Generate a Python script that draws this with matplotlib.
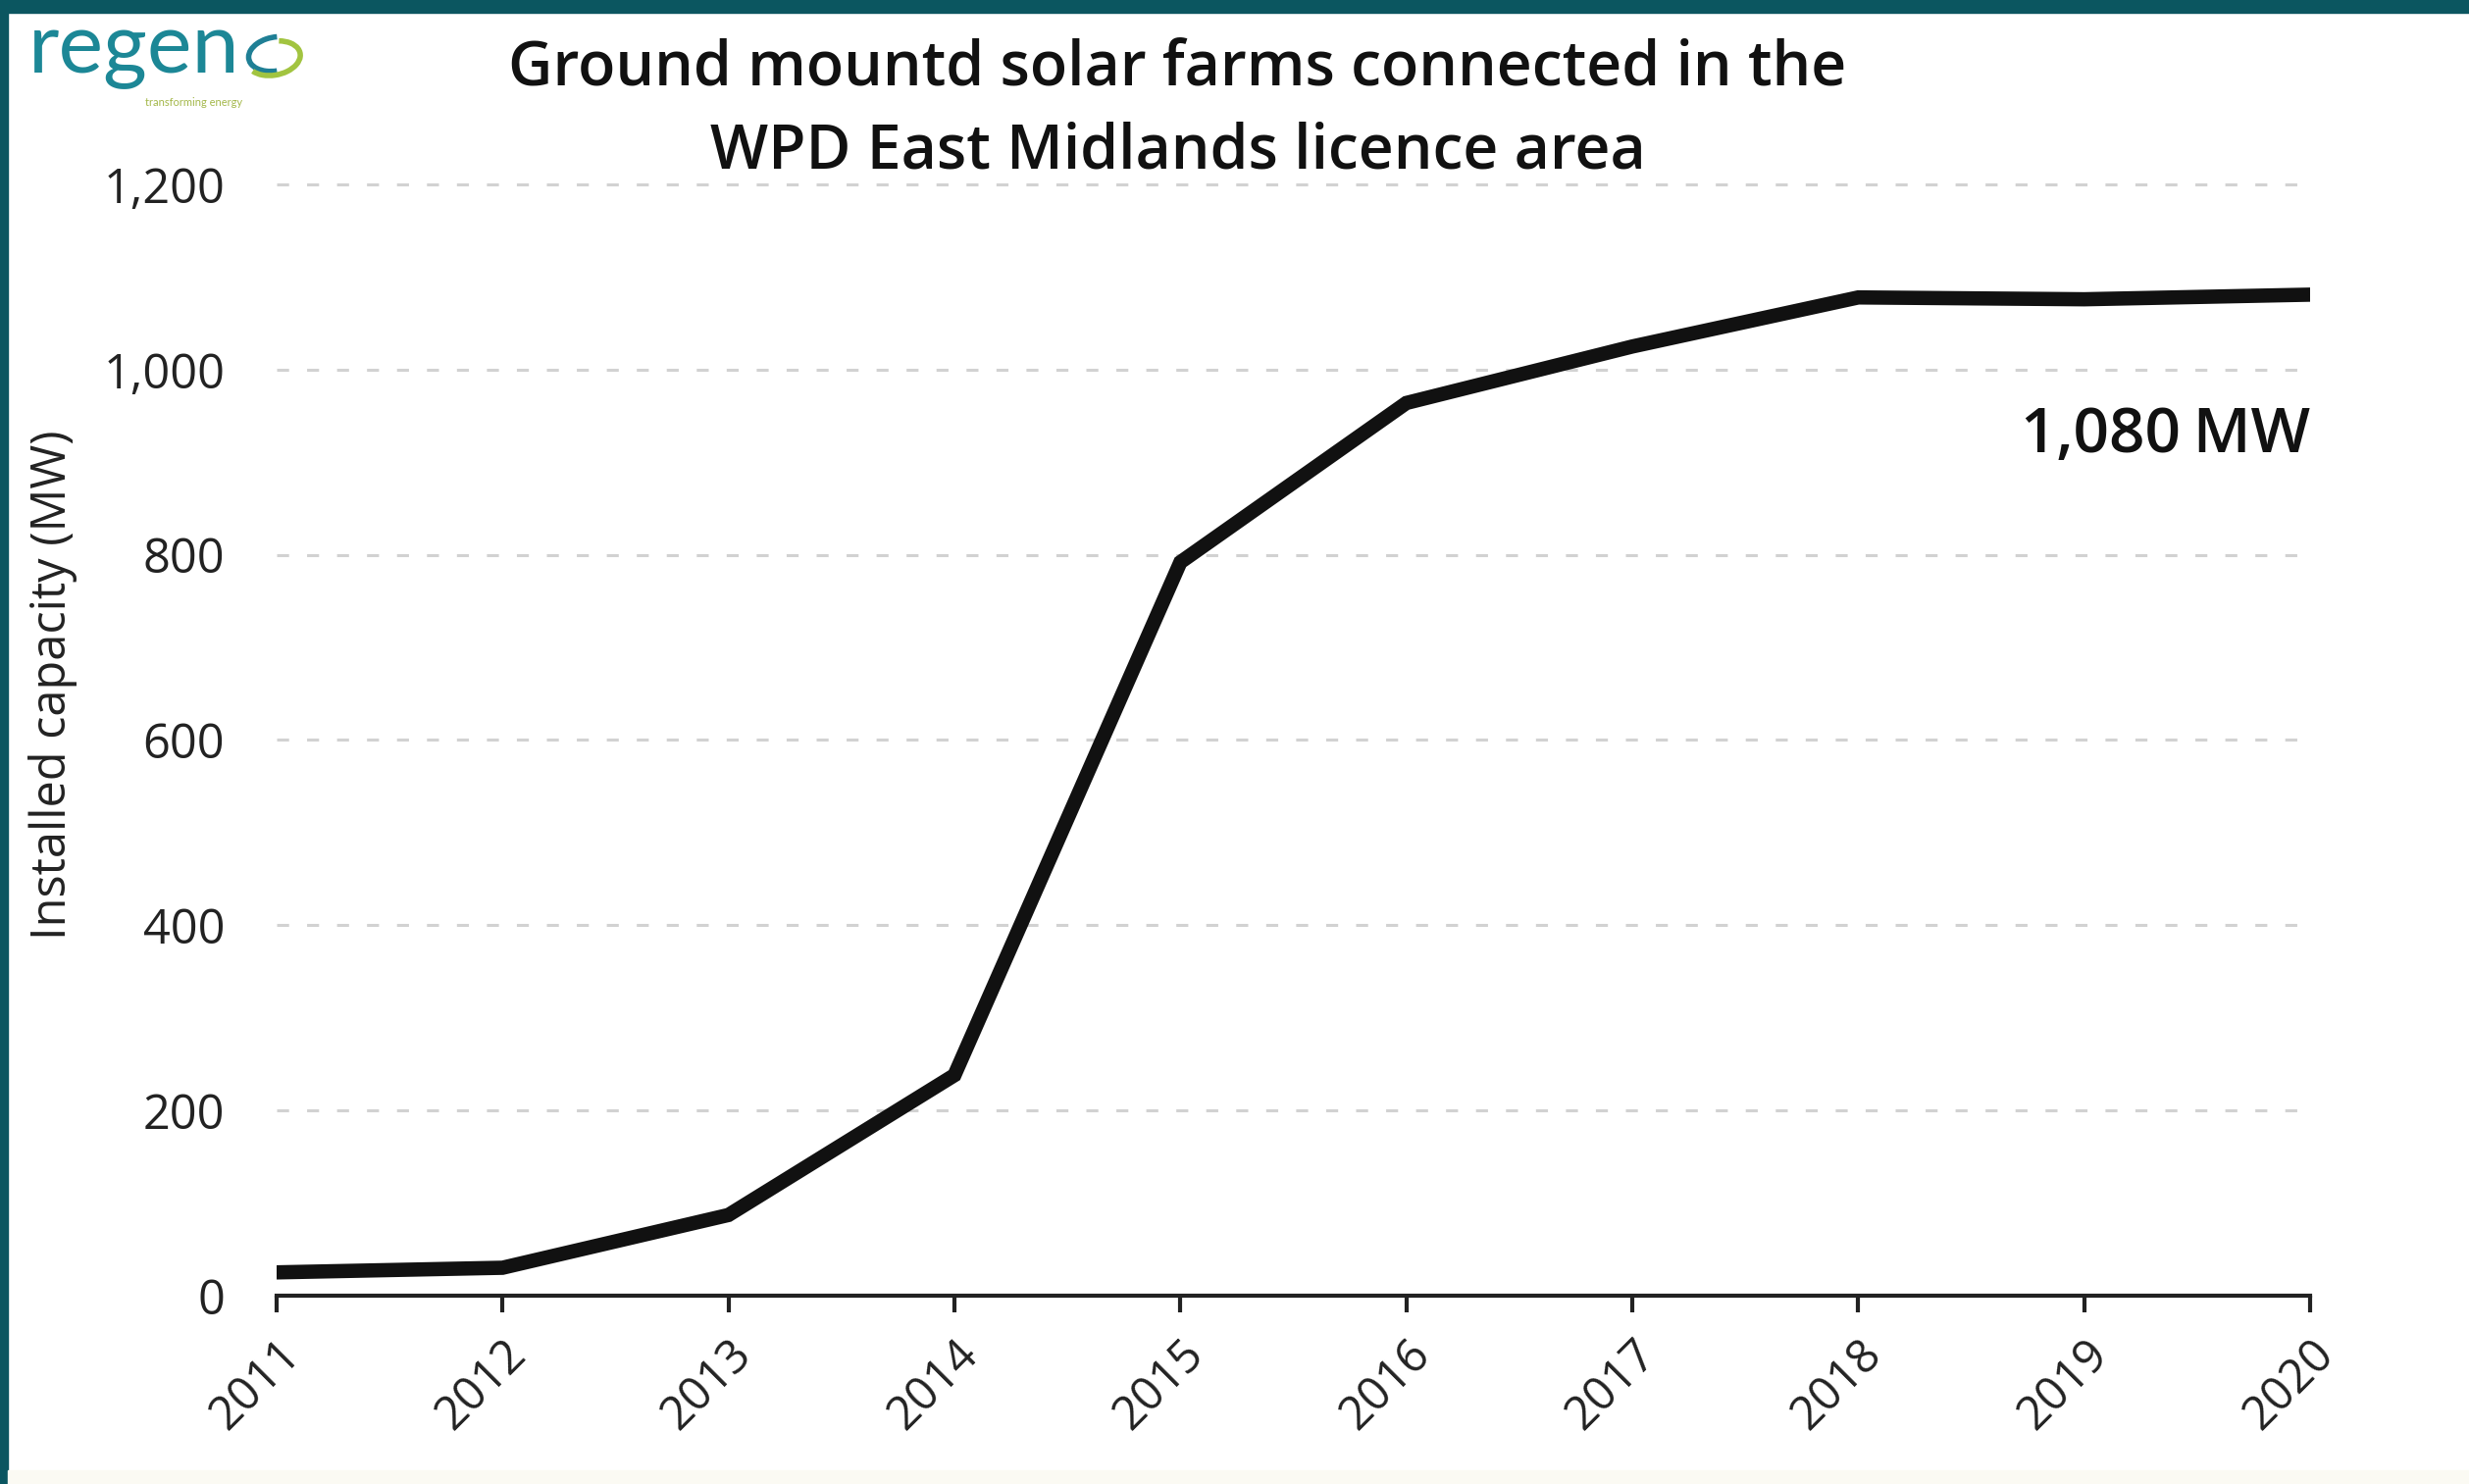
import numpy as np
import matplotlib.pyplot as plt
from matplotlib.patches import Rectangle, Arc

# Datos
years = [2011, 2012, 2013, 2014, 2015, 2016, 2017, 2018, 2019, 2020]
capacity_mw = [25, 30, 87, 238, 792, 964, 1025, 1078, 1076, 1081]
y_ticks = [0, 200, 400, 600, 800, 1000, 1200]
y_tick_labels = ['0', '200', '400', '600', '800', '1,000', '1,200']

title = 'Ground mountd solar farms connected in the\nWPD East Midlands licence area'
y_label = 'Installed capacity (MW)'
end_label = '1,080\u2009MW'

plt.rcParams['font.family'] = ['Open Sans', 'DejaVu Sans']

fig = plt.figure(figsize=(25.17, 15.13), dpi=100)
ax = fig.add_axes([0.112, 0.127, 0.8237, 0.7487])

# marco verde azulado arriba y a la izquierda
teal = '#0b5660'
fig.patches.append(Rectangle((0, 1 - 13 / 1513), 1, 13 / 1513, transform=fig.transFigure,
                             color=teal, zorder=0))
fig.patches.append(Rectangle((0, 0), 8 / 2517, 1, transform=fig.transFigure,
                             color=teal, zorder=0))
fig.patches.append(Rectangle((8 / 2517, 0), 1, 14 / 1513, transform=fig.transFigure,
                             color='#fbfaf3', zorder=0))

ax.plot(years, capacity_mw, color='#111111', lw=10.5, solid_joinstyle='miter',
        solid_capstyle='butt', zorder=3)

ax.set_xlim(2011, 2020)
ax.set_ylim(0, 1200)
ax.set_yticks(y_ticks)
ax.set_yticklabels(y_tick_labels)
ax.set_xticks(years)
ax.set_xticklabels([str(y) for y in years], rotation=45, ha='right',
                   rotation_mode='anchor')

ax.grid(axis='y', color='#d2d2d2', lw=2.2, ls=(0, (4, 6)), clip_on=False)
ax.set_axisbelow(True)
for s in ['top', 'right', 'left']:
    ax.spines[s].set_visible(False)
ax.spines['bottom'].set_linewidth(3)
ax.spines['bottom'].set_color('#222222')
ax.spines['bottom'].set_zorder(4)

ax.tick_params(axis='y', length=0, pad=38, labelsize=35, labelcolor='#222222')
ax.tick_params(axis='x', length=12, width=3, color='#222222', pad=14,
               labelsize=34, labelcolor='#222222')

ax.set_ylabel(y_label, fontsize=35, color='#222222')
ax.yaxis.set_label_coords(-0.098, 0.55)

ax.text(2020, 928, end_label, ha='right', va='center', fontsize=46,
        fontweight='semibold', color='#111111')

fig.text(0.477, 0.974, title, ha='center', va='top', fontsize=45,
         fontweight='semibold', color='#111111', linespacing=1.45)

# logo de regen
fig.text(0.0115, 0.951, 'regen', ha='left', va='baseline', fontsize=62,
         color='#1c8796', family=['Lato', 'DejaVu Sans'])
fig.text(0.0587, 0.9285, 'transforming energy', ha='left', va='baseline',
         fontsize=8, color='#a4b84a', family=['Lato', 'DejaVu Sans'])
logo_ax = fig.add_axes([0.0973, 0.9438, 0.0258, 0.0377])
logo_ax.set_xlim(-1, 1)
logo_ax.set_ylim(-1, 1)
logo_ax.axis('off')
logo_ax.add_patch(Arc((0.1, 0.05), 1.7, 1.2, angle=15, theta1=70, theta2=260,
                      lw=4, color='#1f7f95'))
logo_ax.add_patch(Arc((0.05, -0.1), 1.7, 1.2, angle=15, theta1=200, theta2=420,
                      lw=4, color='#a2c440'))

fig.savefig('out.png', dpi=100, facecolor='white')
